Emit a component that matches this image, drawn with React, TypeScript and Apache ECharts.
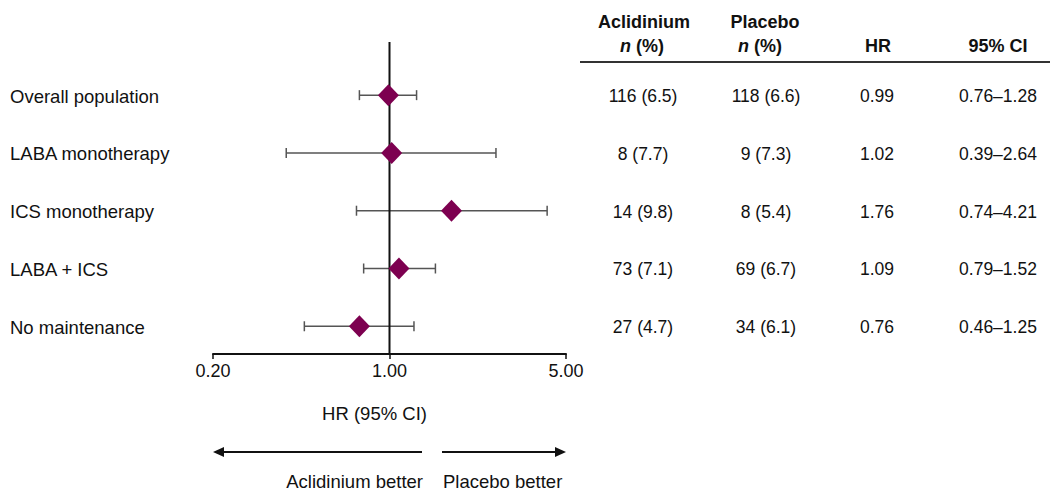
import React, { useEffect, useRef } from "react";
import * as echarts from "echarts";

// Subgroups (top to bottom)
const subgroups = [
  "Overall population",
  "LABA monotherapy",
  "ICS monotherapy",
  "LABA + ICS",
  "No maintenance",
];
const aclidiniumN = [116, 8, 14, 73, 27];
const aclidiniumPct = [6.5, 7.7, 9.8, 7.1, 4.7];
const placeboN = [118, 9, 8, 69, 34];
const placeboPct = [6.6, 7.3, 5.4, 6.7, 6.1];
const hazardRatio = [0.99, 1.02, 1.76, 1.09, 0.76];
const ciLower = [0.76, 0.39, 0.74, 0.79, 0.46];
const ciUpper = [1.28, 2.64, 4.21, 1.52, 1.25];

const FONT = "'Liberation Sans', Arial, Helvetica, sans-serif";
const DIAMOND = "#7d0050";
const Y_MIN = -0.92;
const Y_MAX = 4.48;
const LABEL_SIZE = 18.5;
const CELL_SIZE = 17.5;

// table column centres (px)
const COL_ACL = 643;
const COL_PLA = 766;
const COL_HR = 877;
const COL_CI = 998;

function txt(text: string, x: number, y: number, align: string, extra: any = {}) {
  return {
    type: "text",
    style: {
      text,
      x,
      y,
      align,
      verticalAlign: "middle",
      textAlign: align,
      textVerticalAlign: "middle",
      fill: "#111",
      fontFamily: FONT,
      fontSize: LABEL_SIZE,
      ...extra,
    },
  };
}

function nPctHeader(x: number) {
  return {
    type: "text",
    style: {
      text: "{i|n} (%)",
      x,
      y: 46,
      align: "center",
      verticalAlign: "middle",
      textAlign: "center",
      textVerticalAlign: "middle",
      fill: "#111",
      fontFamily: FONT,
      fontSize: 18,
      fontWeight: "bold",
      rich: {
        i: { fontStyle: "italic", fontWeight: "bold", fontSize: 18, fontFamily: FONT, fill: "#111" },
      },
    },
  };
}

export default function App() {
  const ref = useRef<HTMLDivElement>(null);

  useEffect(() => {
    document.body.style.margin = "0";
    if (!ref.current) return;
    const chart = echarts.init(ref.current, null, { renderer: "svg" });

    const rows = subgroups.map((_, i) => i);

    const option: any = {
      animation: false,
      backgroundColor: "#fff",
      grid: { left: 213, right: 490, top: 42, bottom: 136 },
      xAxis: {
        type: "log",
        logBase: 5,
        min: 0.2,
        max: 5,
        splitNumber: 2,
        axisLine: { show: true, onZero: false, lineStyle: { color: "#111", width: 2 } },
        axisTick: { show: true, length: 5, lineStyle: { color: "#111", width: 1.5 } },
        splitLine: { show: false },
        axisLabel: {
          color: "#111",
          fontSize: 18,
          fontFamily: FONT,
          margin: 8,
          formatter: (v: number) => v.toFixed(2),
        },
        name: "HR (95% CI)",
        nameLocation: "middle",
        nameGap: 50,
        nameTextStyle: {
          color: "#111",
          fontSize: LABEL_SIZE,
          fontFamily: FONT,
          padding: [0, 30, 0, 0],
        },
      },
      yAxis: {
        type: "value",
        inverse: true,
        min: Y_MIN,
        max: Y_MAX,
        show: false,
      },
      series: [
        {
          // confidence intervals with end caps
          type: "custom",
          z: 1,
          data: rows.map((i) => [ciLower[i], ciUpper[i], i]),
          renderItem: (params: any, api: any) => {
            const lo = api.coord([api.value(0), api.value(2)]);
            const hi = api.coord([api.value(1), api.value(2)]);
            const cap = 5;
            const s = { stroke: "#555", lineWidth: 1.5 };
            return {
              type: "group",
              children: [
                { type: "line", shape: { x1: lo[0], y1: lo[1], x2: hi[0], y2: hi[1] }, style: s },
                { type: "line", shape: { x1: lo[0], y1: lo[1] - cap, x2: lo[0], y2: lo[1] + cap }, style: s },
                { type: "line", shape: { x1: hi[0], y1: hi[1] - cap, x2: hi[0], y2: hi[1] + cap }, style: s },
              ],
            };
          },
        },
        {
          // line of no effect
          type: "line",
          z: 2,
          symbol: "none",
          data: [
            [1, Y_MIN],
            [1, Y_MAX],
          ],
          lineStyle: { color: "#111", width: 2 },
        },
        {
          type: "scatter",
          z: 3,
          symbol: "diamond",
          symbolSize: [21, 22],
          itemStyle: { color: DIAMOND, opacity: 1 },
          data: rows.map((i) => [hazardRatio[i], i]),
        },
        {
          // row labels and table cells
          type: "custom",
          z: 4,
          clip: false,
          data: rows.map((i) => [1, i]),
          renderItem: (params: any, api: any) => {
            const i = params.dataIndex;
            const y = api.coord([1, i])[1] + 1;
            const cell = { fontSize: CELL_SIZE };
            return {
              type: "group",
              children: [
                txt(subgroups[i], 10, y, "left"),
                txt(`${aclidiniumN[i]} (${aclidiniumPct[i].toFixed(1)})`, COL_ACL, y, "center", cell),
                txt(`${placeboN[i]} (${placeboPct[i].toFixed(1)})`, COL_PLA, y, "center", cell),
                txt(hazardRatio[i].toFixed(2), COL_HR, y, "center", cell),
                txt(`${ciLower[i].toFixed(2)}\u2013${ciUpper[i].toFixed(2)}`, COL_CI, y, "center", cell),
              ],
            };
          },
        },
      ],
      graphic: [
        // table header
        txt("Aclidinium", 644, 22, "center", { fontWeight: "bold", fontSize: 18 }),
        nPctHeader(642),
        txt("Placebo", 765, 22, "center", { fontWeight: "bold", fontSize: 18 }),
        nPctHeader(760),
        txt("HR", 878, 46, "center", { fontWeight: "bold", fontSize: 18 }),
        txt("95% CI", 998, 46, "center", { fontWeight: "bold", fontSize: 18 }),
        {
          type: "line",
          shape: { x1: 580, y1: 62, x2: 1050, y2: 62 },
          style: { stroke: "#333", lineWidth: 2 },
        },
        // direction arrows
        {
          type: "line",
          shape: { x1: 422, y1: 452, x2: 220, y2: 452 },
          style: { stroke: "#111", lineWidth: 2 },
        },
        {
          type: "polygon",
          shape: { points: [[213, 452], [224, 447], [224, 457]] },
          style: { fill: "#111" },
        },
        {
          type: "line",
          shape: { x1: 442, y1: 452, x2: 559, y2: 452 },
          style: { stroke: "#111", lineWidth: 2 },
        },
        {
          type: "polygon",
          shape: { points: [[566, 452], [555, 447], [555, 457]] },
          style: { fill: "#111" },
        },
        txt("Aclidinium better", 423, 481, "right"),
        txt("Placebo better", 443, 481, "left"),
      ],
    };

    chart.setOption(option);
    return () => chart.dispose();
  }, []);

  return <div ref={ref} style={{ width: 1056, height: 490 }} />;
}
